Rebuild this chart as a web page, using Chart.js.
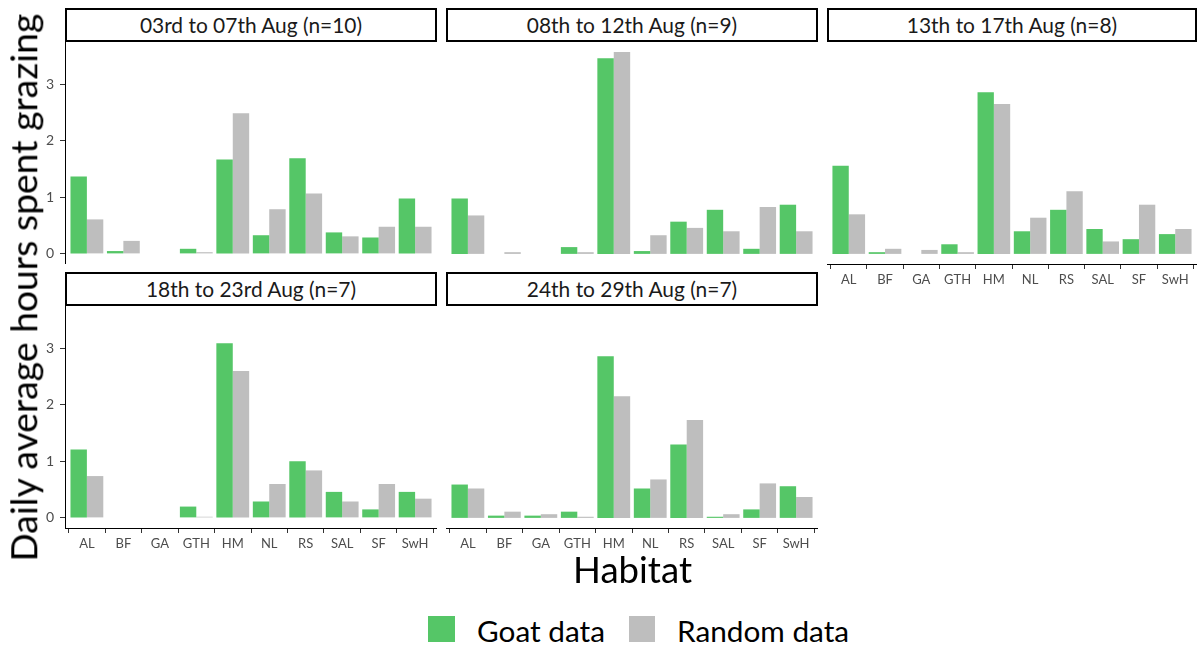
<!DOCTYPE html>
<html><head><meta charset="utf-8">
<script src="https://cdn.jsdelivr.net/npm/chart.js@4.4.1/dist/chart.umd.min.js"></script>
<style>
html,body{margin:0;padding:0;background:#fff;width:1198px;height:648px;overflow:hidden;font-family:Lato,'Open Sans',sans-serif;}
canvas{position:absolute;}
.strip{position:absolute;box-sizing:border-box;border:2px solid #000;background:#fff;color:#1a1a1a;display:flex;align-items:center;justify-content:center;white-space:nowrap;line-height:1;}
.txt{position:absolute;white-space:nowrap;line-height:1;color:#000;}
.sw{position:absolute;}
</style>
</head><body>
<div id="root"></div>
<script>
// ---- data ----
const habitats = ['AL','BF','GA','GTH','HM','NL','RS','SAL','SF','SwH'];
const periods = ['03rd to 07th Aug (n=10)','08th to 12th Aug (n=9)','13th to 17th Aug (n=8)','18th to 23rd Aug (n=7)','24th to 29th Aug (n=7)'];
const goat1   = [1.37,0.05,0,0.09,1.67,0.33,1.69,0.38,0.29,0.98];
const random1 = [0.61,0.23,0,0.03,2.49,0.79,1.07,0.31,0.48,0.48];
const goat2   = [0.98,0,0,0.12,3.46,0.05,0.57,0.78,0.09,0.87];
const random2 = [0.68,0.03,0,0.03,3.57,0.33,0.46,0.40,0.83,0.40];
const goat3   = [1.56,0.03,0,0.17,2.86,0.40,0.78,0.44,0.26,0.35];
const random3 = [0.70,0.09,0.07,0.03,2.65,0.64,1.11,0.22,0.87,0.44];
const goat4   = [1.21,0,0,0.20,3.09,0.29,1.00,0.46,0.15,0.46];
const random4 = [0.74,0,0,0.02,2.60,0.60,0.84,0.29,0.60,0.34];
const goat5   = [0.59,0.04,0.04,0.11,2.86,0.52,1.30,0.02,0.15,0.56];
const random5 = [0.52,0.11,0.065,0.02,2.15,0.68,1.73,0.065,0.61,0.37];
const yTicks = [0,1,2,3];
const seriesNames = ['Goat data','Random data'];
const yTitle = 'Daily average hours spent grazing';
const xTitle = 'Habitat';

// ---- style / layout ----
const GREEN = '#55C667', GREY = '#BEBEBE';
const FONT = 'Lato';
const goats = [goat1,goat2,goat3,goat4,goat5];
const randoms = [random1,random2,random3,random4,random5];
const boxes = [
  {left:65,  top:42,  w:372, showY:true,  showX:false},
  {left:446, top:42,  w:372, showY:false, showX:false},
  {left:827, top:42,  w:370, showY:false, showX:true},
  {left:65,  top:306, w:372, showY:true,  showX:true},
  {left:446, top:306, w:372, showY:false, showX:true}
];
const PLOT_H = 222, YAXIS_W = 65, XAXIS_H = 30, STRIP_H = 34;

const root = document.getElementById('root');
const mctx = document.createElement('canvas').getContext('2d');
function fitSize(text, targetW){
  mctx.font = '100px ' + FONT;
  return 100 * targetW / mctx.measureText(text).width;
}
const stripSize = fitSize(periods[0], 223);

boxes.forEach((b, k) => {
  const strip = document.createElement('div');
  strip.className = 'strip';
  strip.style.left = b.left + 'px';
  strip.style.top = (b.top - STRIP_H) + 'px';
  strip.style.width = b.w + 'px';
  strip.style.height = STRIP_H + 'px';
  strip.style.fontSize = stripSize + 'px';
  strip.textContent = periods[k];
  root.appendChild(strip);

  const cv = document.createElement('canvas');
  const cw = b.w + (b.showY ? YAXIS_W : 0);
  const ch = PLOT_H + (b.showX ? XAXIS_H : 0);
  cv.width = cw; cv.height = ch;
  cv.style.left = (b.left - (b.showY ? YAXIS_W : 0)) + 'px';
  cv.style.top = b.top + 'px';
  cv.style.width = cw + 'px'; cv.style.height = ch + 'px';
  root.appendChild(cv);

  const axisGrid = {display:true, drawOnChartArea:false, drawTicks:true, tickLength:5, color:'#333333', lineWidth:1};
  new Chart(cv.getContext('2d'), {
    type: 'bar',
    data: {
      datasets: [
        {label: seriesNames[0], data: goats[k].map((v,i)=>({x:i, y:v})), backgroundColor: GREEN},
        {label: seriesNames[1], data: randoms[k].map((v,i)=>({x:i, y:v})), backgroundColor: GREY}
      ]
    },
    options: {
      responsive:false, animation:false, devicePixelRatio:1,
      layout:{padding:0},
      categoryPercentage:0.9, barPercentage:1,
      plugins:{legend:{display:false}, tooltip:{enabled:false}},
      scales:{
        x:{type:'linear', min:-0.6, max:9.6, display:b.showX, offset:false,
           afterBuildTicks: s => { s.ticks = habitats.map((_,i)=>({value:i})); },
           afterFit: s => { s.height = b.showX ? XAXIS_H : 0; },
           ticks:{callback: v => habitats[v], autoSkip:false, maxRotation:0, minRotation:0, color:'#4D4D4D', font:{family:FONT, size:13}, padding:3},
           grid: axisGrid,
           border:{display:true, color:'#000', width:1}},
        y:{type:'linear', min:-0.179, max:3.749, display:b.showY,
           afterBuildTicks: s => { s.ticks = yTicks.map(v=>({value:v})); },
           afterFit: s => { s.width = b.showY ? YAXIS_W : 0; s.paddingTop = 0; s.paddingBottom = 0; },
           ticks:{color:'#4D4D4D', font:{family:FONT, size:14}, padding:6},
           grid: axisGrid,
           border:{display:true, color:'#000', width:1}}
      }
    }
  });
});

// axis titles
const yt = document.createElement('div');
yt.className = 'txt';
yt.textContent = yTitle;
yt.style.fontSize = fitSize(yTitle, 549) + 'px';
root.appendChild(yt);
const ytw = yt.getBoundingClientRect();
yt.style.left = (23 - ytw.width/2) + 'px';
yt.style.top = (287.5 - ytw.height/2) + 'px';
yt.style.transform = 'rotate(-90deg)';

const xt = document.createElement('div');
xt.className = 'txt';
xt.textContent = xTitle;
xt.style.fontSize = fitSize(xTitle, 119) + 'px';
root.appendChild(xt);
const xtw = xt.getBoundingClientRect();
xt.style.left = (632.5 - xtw.width/2) + 'px';
xt.style.top = (569 - xtw.height/2) + 'px';

// legend
const legItems = [
  {sw:{x:428, w:27}, tx:477, color:GREEN},
  {sw:{x:629, w:26}, tx:677, color:GREY}
];
const legSize = fitSize(seriesNames[0], 128);
legItems.forEach((it, i) => {
  const s = document.createElement('div');
  s.className = 'sw';
  s.style.left = it.sw.x + 'px'; s.style.top = '616px';
  s.style.width = it.sw.w + 'px'; s.style.height = '26px';
  s.style.background = it.color;
  root.appendChild(s);
  const t = document.createElement('div');
  t.className = 'txt';
  t.textContent = seriesNames[i];
  t.style.fontSize = legSize + 'px';
  root.appendChild(t);
  const r = t.getBoundingClientRect();
  t.style.left = it.tx + 'px';
  t.style.top = (630.5 - r.height/2) + 'px';
});
</script>
</body></html>
